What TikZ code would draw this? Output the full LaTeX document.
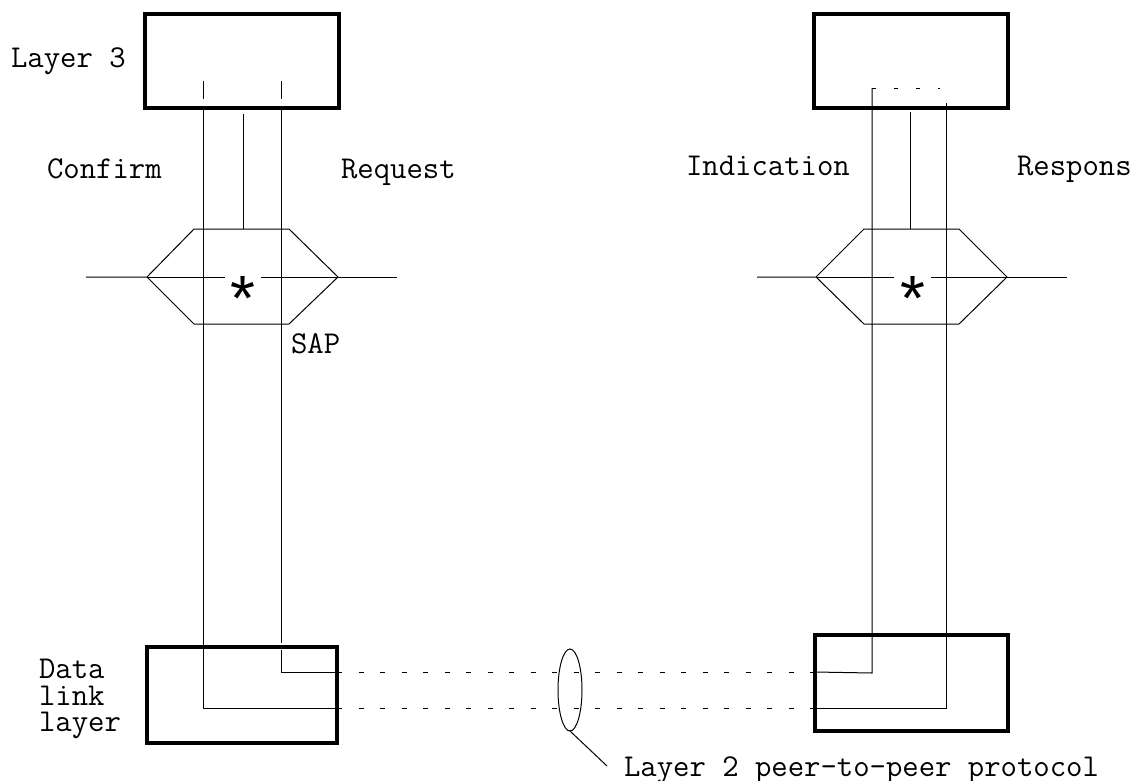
\documentclass[tikz,border=0pt]{standalone}
\usepackage{fontspec}
\newfontfamily\starfont{Liberation Sans}
\usetikzlibrary{shapes.geometric}

\begin{document}
\begin{tikzpicture}[x=1pt,y=-1pt,line width=1pt,
  every node/.style={inner sep=0pt,outer sep=0pt},
  lab/.style={anchor=base west,font=\ttfamily\fontsize{31.8}{30}\selectfont},
  layerbox/.style={draw,line width=4pt,minimum width=#1,minimum height=96pt},
  sapstar/.style={anchor=base,font=\starfont\fontsize{64}{64}\selectfont},
  peer/.style={dash pattern=on 5pt off 16.5pt}]
\useasboundingbox (0,0) rectangle (1130,780);
% layer boxes
\node [layerbox=194,minimum height=94pt] (l3a) at (242,61) {};
\node [layerbox=194,minimum height=94pt] (l3b) at (911,61) {};
\node [layerbox=190] (dla) at (242,695) {};
\node [layerbox=193] (dlb) at (911.5,683) {};
% labels
\node [lab] (l3lab) at (11,67) {Layer 3};
\node [lab] (conf) at (47,178) {Confirm};
\node [lab] (req) at (341,178) {Request};
\node [lab] (ind) at (686,175) {Indication};
\node [lab] (resp) at (1017,175) {Response};
\node [lab] (sap) at (291,353) {SAP};
\node [lab] (dl1) at (39,678) {Data};
\node [lab] (dl2) at (39,705) {link};
\node [lab] (dl3) at (39,731) {layer};
\node [lab] (l2lab) at (624,776) {Layer 2 peer-to-peer protocol};
% service access points
\draw (86,277) -- (147,277) -- (194,229) -- (289,229) -- (338,277) -- (289,324) -- (194,324) -- (147,277);
\draw (338,277) -- (397,277);
\draw (147,277) -- (225,277);
\draw (261,277) -- (338,277);
\node [sapstar] (stara) at (243,320) {*};
\draw (757,277) -- (816,277) -- (864,229) -- (959,229) -- (1007,277) -- (959,324) -- (864,324) -- (816,277);
\draw (1007,277) -- (1067,277);
\draw (816,277) -- (894,277);
\draw (931,277) -- (1007,277);
\node [sapstar] (starb) at (913,320) {*};
% primitives, left side
\coordinate (confTop) at (203,108);
\coordinate (confBot) at (203,708);
\coordinate (reqTop) at (281,108);
\coordinate (reqIn) at (281,650);
\coordinate (reqBot) at (281,672);
\draw (203,81) -- (203,99);
\draw (281,81) -- (281,99);
\draw (243,114) -- (243,229);
\draw (confTop) -- (confBot) -- (confBot -| dla.east);
\draw (reqTop) -- (281,643);
\draw (reqIn) -- (reqBot) -- (reqBot -| dla.east);
% primitives, right side
\coordinate (indTop) at (872,88);
\coordinate (indBot) at (872,673);
\coordinate (resTop) at (946,103);
\coordinate (resBot) at (946,708);
\draw (910,112) -- (910,229);
\draw (indTop) -- (indBot) -- (dlb.west |- reqBot);
\draw [dash pattern=on 4pt off 18pt] (indTop) -- (940,88);
\draw (resTop) -- (resBot) -- (dlb.west |- resBot);
% peer-to-peer
\draw [peer] (reqBot -| dla.east) -- (dlb.west |- reqBot);
\draw [peer] (confBot -| dla.east) -- (dlb.west |- confBot);
\node [draw,ellipse,line width=1pt,minimum width=24pt,minimum height=82pt] (peerring) at (570,690) {};
\coordinate (peerend) at (607,766);
\draw (peerring.south) -- (peerend);
\end{tikzpicture}
\end{document}
